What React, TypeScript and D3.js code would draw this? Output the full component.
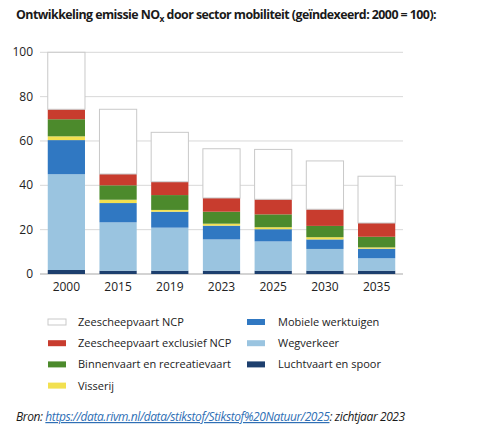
import React, { useEffect, useRef } from 'react';
import * as d3 from 'd3';

const years = ['2000', '2015', '2019', '2023', '2025', '2030', '2035'];

// stacking order bottom -> top
const luchtvaart = [1.8, 1.5, 1.5, 1.5, 1.5, 1.5, 1.5];
const wegverkeer = [43.2, 21.8, 19.4, 14.1, 13.2, 9.8, 5.6];
const mobiele = [15.4, 8.7, 7.2, 6.2, 5.5, 4.3, 4.3];
const visserij = [1.7, 1.5, 0.8, 0.9, 0.9, 1.0, 0.6];
const binnenvaart = [7.7, 6.5, 6.7, 5.4, 5.8, 5.1, 4.8];
const zeeExcl = [4.5, 5.1, 6.0, 6.2, 6.8, 7.5, 6.2];
const zeeNcp = [25.7, 29.2, 22.3, 22.2, 22.5, 21.8, 21.1];

const yTicks = [0, 20, 40, 60, 80, 100];

const series = [
  { key: 'luchtvaart', name: 'Luchtvaart en spoor', values: luchtvaart, color: '#1d3f6e' },
  { key: 'wegverkeer', name: 'Wegverkeer', values: wegverkeer, color: '#9ac4e0' },
  { key: 'mobiele', name: 'Mobiele werktuigen', values: mobiele, color: '#3078c2' },
  { key: 'visserij', name: 'Visserij', values: visserij, color: '#f2e050' },
  { key: 'binnenvaart', name: 'Binnenvaart en recreatievaart', values: binnenvaart, color: '#4c8a2c' },
  { key: 'zeeExcl', name: 'Zeescheepvaart exclusief NCP', values: zeeExcl, color: '#c83c2e' },
  { key: 'zeeNcp', name: 'Zeescheepvaart NCP', values: zeeNcp, color: '#ffffff' },
];

const legendLeft = ['zeeNcp', 'zeeExcl', 'binnenvaart', 'visserij'];
const legendRight = ['mobiele', 'wegverkeer', 'luchtvaart'];

const font = "'Open Sans', sans-serif";

function draw(node: SVGSVGElement) {
  const svg = d3.select(node);
  svg.selectAll('*').remove();

  const x = d3.scaleBand().domain(years).range([40, 403]).paddingInner(0.28).paddingOuter(0.15);
  const y = d3.scaleLinear().domain([0, 100]).range([274, 52.3]);

  svg.append('text')
    .attr('x', 16).attr('y', 19)
    .attr('font-family', font).attr('font-weight', 700).attr('font-size', 12.4)
    .attr('fill', '#1a1a1a')
    .attr('letter-spacing', -0.55)
    .call(t => {
      t.append('tspan').text('Ontwikkeling emissie NO');
      t.append('tspan').attr('font-size', 8.5).attr('dy', 3).text('x');
      t.append('tspan').attr('dy', -3).text(' door sector mobiliteit (geïndexeerd: 2000 = 100):');
    });

  // gridlines
  svg.append('g')
    .selectAll('line')
    .data(yTicks)
    .join('line')
    .attr('x1', 40).attr('x2', 403)
    .attr('y1', d => y(d)).attr('y2', d => y(d))
    .attr('stroke', d => (d === 0 ? '#c4c4c4' : '#d8d8d8'))
    .attr('stroke-width', d => (d === 0 ? 1.5 : 1));

  svg.append('g')
    .selectAll('text')
    .data(yTicks)
    .join('text')
    .attr('x', 33).attr('y', d => y(d) + 4)
    .attr('text-anchor', 'end')
    .attr('font-family', font).attr('font-size', 12).attr('fill', '#222')
    .text(d => d);

  const stack = d3.stack<number>()
    .keys(series.map((_, i) => String(i)))
    .value((idx, k) => series[+k].values[idx]);
  const layers = stack(years.map((_, i) => i));

  layers.forEach((layer, li) => {
    const s = series[li];
    svg.append('g')
      .selectAll('rect')
      .data(layer)
      .join('rect')
      .attr('x', (_, i) => x(years[i])!)
      .attr('width', x.bandwidth())
      .attr('y', d => y(d[1]))
      .attr('height', d => y(d[0]) - y(d[1]))
      .attr('fill', s.color)
      .attr('stroke', s.key === 'zeeNcp' ? '#c9c9c9' : 'none')
      .attr('stroke-width', 1);
  });

  svg.append('g')
    .selectAll('text')
    .data(years)
    .join('text')
    .attr('x', d => x(d)! + x.bandwidth() / 2)
    .attr('y', 291)
    .attr('text-anchor', 'middle')
    .attr('font-family', font).attr('font-size', 12).attr('fill', '#222')
    .text(d => d);

  const legend = (keys: string[], sx: number, tx: number) => {
    keys.forEach((k, i) => {
      const s = series.find(v => v.key === k)!;
      const cy = 322 + i * 21.2;
      svg.append('rect')
        .attr('x', sx).attr('y', cy - 3).attr('width', 18).attr('height', 6)
        .attr('fill', s.color)
        .attr('stroke', s.key === 'zeeNcp' ? '#c9c9c9' : 'none');
      svg.append('text')
        .attr('x', tx).attr('y', cy + 4)
        .attr('font-family', font).attr('font-size', 11).attr('fill', '#222')
        .text(s.name);
    });
  };
  legend(legendLeft, 48, 78);
  legend(legendRight, 247, 278);

  svg.append('text')
    .attr('x', 16).attr('y', 421)
    .attr('font-family', font).attr('font-style', 'italic').attr('font-size', 12)
    .attr('letter-spacing', -0.4)
    .attr('fill', '#1a1a1a')
    .call(t => {
      t.append('tspan').text('Bron: ');
      t.append('tspan').attr('fill', '#2f6fb5').attr('text-decoration', 'underline')
        .text('https://data.rivm.nl/data/stikstof/Stikstof%20Natuur/2025');
      t.append('tspan').text(': zichtjaar 2023');
    });
}

export default function App() {
  const ref = useRef<SVGSVGElement>(null);
  useEffect(() => {
    if (ref.current) draw(ref.current);
  }, []);
  return (
    <svg ref={ref} width={500} height={444}
      style={{ position: 'absolute', left: 0, top: 0, background: '#fff' }} />
  );
}
